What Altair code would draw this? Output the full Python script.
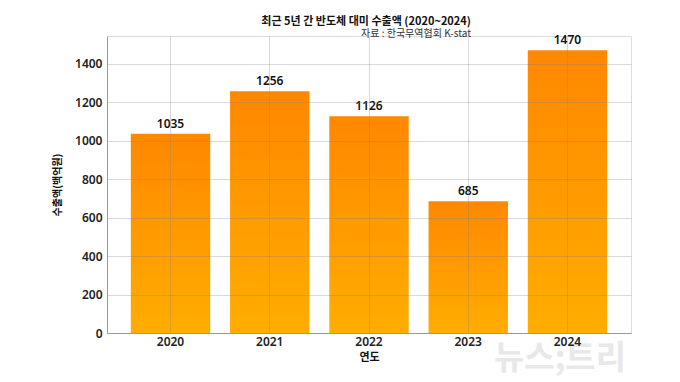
import altair as alt
import pandas as pd

years = ["2020", "2021", "2022", "2023", "2024"]
values = [1035, 1256, 1126, 685, 1470]
y_ticks = [0, 200, 400, 600, 800, 1000, 1200, 1400]

title_text = "최근 5년 간 반도체 대미 수출액 (2020~2024)"
subtitle_text = "자료 : 한국무역협회 K-stat"
x_title = "연도"
y_title = "수출액(백억원)"
watermark = "뉴스;트리"

df = pd.DataFrame({"year": years, "value": values})

KFONT = "Noto Sans CJK KR"
NFONT = "Noto Sans"

x_enc = alt.X(
    "year:N",
    title=x_title,
    sort=years,
    scale=alt.Scale(paddingInner=0.2, paddingOuter=0.24),
    axis=alt.Axis(
        labelAngle=0,
        bandPosition=0.5,
        grid=True,
        gridColor="#808080",
        gridOpacity=0.3,
        gridWidth=1,
        domainColor="#999999",
        ticks=False,
        labelFont=NFONT,
        labelFontSize=12,
        labelFontWeight=600,
        labelColor="#222222",
        labelPadding=3,
        titleFont=KFONT,
        titleFontSize=11,
        titleFontWeight="bold",
        titleColor="#111111",
        titlePadding=4,
        zindex=1,
    ),
)

y_enc = alt.Y(
    "value:Q",
    title=y_title,
    scale=alt.Scale(domain=[0, 1543.5], nice=False, zero=True),
    axis=alt.Axis(
        values=y_ticks,
        format="d",
        grid=True,
        gridColor="#808080",
        gridOpacity=0.3,
        gridWidth=1,
        domainColor="#999999",
        ticks=False,
        labelFont=NFONT,
        labelFontSize=12,
        labelFontWeight=600,
        labelColor="#222222",
        labelPadding=5,
        titleFont=KFONT,
        titleFontSize=10,
        titleFontWeight="bold",
        titleColor="#111111",
        titlePadding=12,
        zindex=1,
    ),
)

gradient = alt.Gradient(
    gradient="linear",
    stops=[
        alt.GradientStop(color="#FF8800", offset=0),
        alt.GradientStop(color="#FFAD00", offset=1),
    ],
    x1=0, x2=0, y1=0, y2=1,
)

bars = alt.Chart(df).mark_bar(color=gradient, cornerRadius=0).encode(
    x=x_enc, y=y_enc
)

labels = alt.Chart(df).mark_text(
    baseline="bottom", dy=-3, font=NFONT, fontSize=12, fontWeight=600, color="#111111"
).encode(
    x=alt.X("year:N", sort=years),
    y=alt.Y("value:Q"),
    text=alt.Text("value:Q"),
)

wm = alt.Chart(pd.DataFrame({"t": [watermark]})).mark_text(
    font=KFONT, fontSize=33, fontWeight="bold", color="#E8E8E8", align="center", baseline="middle"
).encode(
    text="t:N",
    x=alt.value(453),
    y=alt.value(323),
)

chart = alt.layer(bars, labels, wm).properties(
    width=524,
    height=297,
    autosize=alt.AutoSizeParams(type="none"),
    padding={"left": 99, "top": 28, "right": 41, "bottom": 46},
    title=alt.TitleParams(
        text=title_text,
        subtitle=subtitle_text,
        anchor="end",
        align="right",
        dx=-160,
        offset=-5,
        font=KFONT,
        fontSize=11,
        fontWeight="bold",
        color="#111111",
        subtitleFont=KFONT,
        subtitleFontSize=10,
        subtitleColor="#333333",
        subtitlePadding=2,
    ),
).configure_view(stroke=None).configure(background="white")

chart.save("out.html", embed_options={"renderer": "svg", "actions": False})
